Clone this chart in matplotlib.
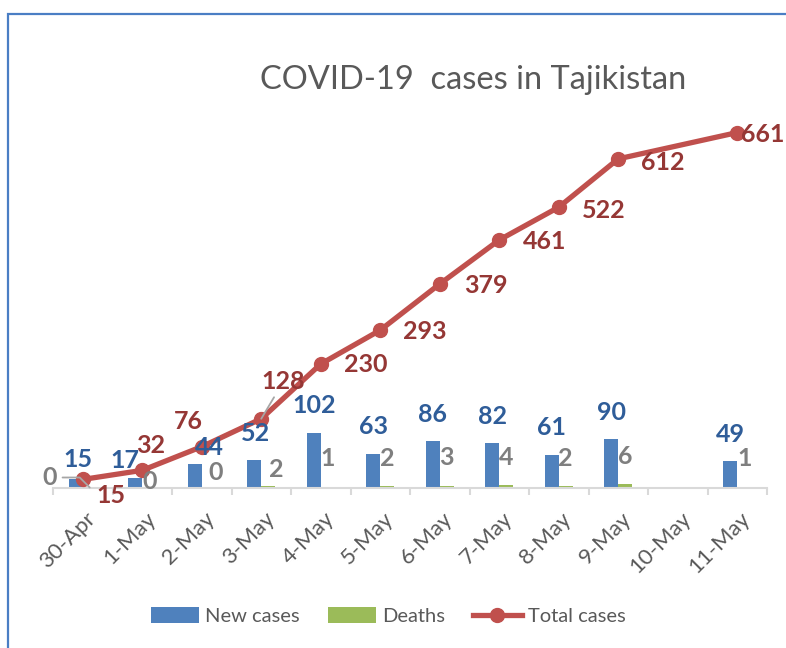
import numpy as np
import matplotlib
matplotlib.use("Agg")
import matplotlib.pyplot as plt
from matplotlib.patches import Patch, Rectangle
from matplotlib.lines import Line2D
from matplotlib.transforms import ScaledTranslation

# ---------------- data ----------------
dates = ["30-Apr", "1-May", "2-May", "3-May", "4-May", "5-May", "6-May",
         "7-May", "8-May", "9-May", "10-May", "11-May"]
new_cases = [15, 17, 44, 52, 102, 63, 86, 82, 61, 90, np.nan, 49]
deaths = [0, 0, 0, 2, 1, 2, 3, 4, 2, 6, np.nan, 1]
total_cases = [15, 32, 76, 128, 230, 293, 379, 461, 522, 612, np.nan, 661]

# label offsets (pixels, +y up) -- styling only
new_off = [(2, 20), (-10, 18), (15, 16), (1, 26)] + [(0, 27)] * 8
death_off = [(-40, 10), (0, 6), (7, 15), (8, 17)] + [(0, 28)] * 8
total_off = [(28, -16), (8, 25), (-13, 25), (22, 37), (45, -1), (45, -1),
             (46, -2), (45, -2), (45, -3), (45, -4), (0, 0), (26, -2)]

BLUE = "#4F81BD"
GREEN = "#9BBB59"
RED = "#C0504D"
BLUE_T = "#2F5D99"
RED_T = "#953735"
GRAY_T = "#7F7F7F"
TXT = "#595959"

plt.rcParams["font.family"] = ["Lato", "DejaVu Sans"]

fig = plt.figure(figsize=(7.86, 6.48), dpi=100)
W, H = 786, 648
ax = fig.add_axes([53 / W, (H - 487.5) / H, 714 / W, 375.9 / H])

x = np.arange(len(dates))
bw = 0.235
nc = np.array(new_cases, dtype=float)
dt = np.array(deaths, dtype=float)
tc = np.array(total_cases, dtype=float)

ax.bar(x - bw / 2, nc, width=bw, color=BLUE, zorder=2)
ax.bar(x + bw / 2, dt, width=bw, color=GREEN, zorder=2)
m = ~np.isnan(tc)
ax.plot(x[m], tc[m], color=RED, lw=3.8, marker="o", ms=10, zorder=4,
        solid_capstyle="round")

ax.set_xlim(-0.5, len(dates) - 0.5)
ax.set_ylim(0, 700)
ax.set_yticks([])
for s in ["left", "right", "top"]:
    ax.spines[s].set_visible(False)
ax.spines["bottom"].set_color("#D9D9D9")
ax.spines["bottom"].set_linewidth(1.5)

ax.set_xticks(x)
ax.set_xticks(np.arange(-0.5, len(dates)), minor=True)
ax.tick_params(axis="x", which="major", length=0, pad=20, labelsize=16,
               labelcolor=TXT)
ax.tick_params(axis="x", which="minor", length=5, width=1.5, color="#D9D9D9",
               direction="out")
ax.set_xticklabels(dates, rotation=45, ha="right", va="center",
                   rotation_mode="anchor")
for lab in ax.get_xticklabels():
    lab.set_transform(lab.get_transform() +
                      ScaledTranslation(10 / 100, 0, fig.dpi_scale_trans))

fs = 18
for i in range(len(dates)):
    if not np.isnan(nc[i]):
        ax.annotate(f"{int(nc[i])}", xy=(x[i] - bw / 2, nc[i]),
                    xytext=new_off[i], textcoords="offset pixels",
                    ha="center", va="center", fontsize=fs, fontweight="bold",
                    color=BLUE_T, zorder=5)
    if not np.isnan(dt[i]):
        kw = {}
        if i == 0:
            kw = dict(arrowprops=dict(arrowstyle="-", color="#A6A6A6", lw=1.3,
                                      shrinkA=2, shrinkB=0,
                                      connectionstyle="angle,angleA=0,angleB=135,rad=0"))
        ax.annotate(f"{int(dt[i])}", xy=(x[i] + bw / 2, dt[i]),
                    xytext=death_off[i], textcoords="offset pixels",
                    ha="center", va="center", fontsize=fs, fontweight="bold",
                    color=GRAY_T, zorder=5, **kw)
    if not np.isnan(tc[i]):
        kw = {}
        if i == 3:
            kw = dict(arrowprops=dict(arrowstyle="-", color="#A6A6A6", lw=1.3,
                                      shrinkA=1, shrinkB=0))
        ax.annotate(f"{int(tc[i])}", xy=(x[i], tc[i]),
                    xytext=total_off[i], textcoords="offset pixels",
                    ha="center", va="center", fontsize=fs, fontweight="bold",
                    color=RED_T, zorder=6, annotation_clip=False, **kw)

fig.text(473 / W, 1 - 80 / H, "COVID-19  cases in Tajikistan", ha="center",
         va="center", fontsize=23.5, color=TXT)

handles = [Patch(facecolor=BLUE, edgecolor="none"),
           Patch(facecolor=GREEN, edgecolor="none"),
           Line2D([0], [0], color=RED, lw=3.8, marker="o", ms=10)]
fig.legend(handles, ["New cases", "Deaths", "Total cases"], loc="center",
           bbox_to_anchor=(388 / W, 1 - 616 / H), ncol=3, frameon=False,
           fontsize=14.5, labelcolor=TXT, handlelength=2.4, handleheight=0.8,
           handletextpad=0.3, columnspacing=1.4)

fig.add_artist(Rectangle((8 / W, -0.1), 2.0, (H - 14) / H + 0.1,
                         transform=fig.transFigure, fill=False,
                         edgecolor="#4A7EC4", lw=1.6))

fig.savefig("out.png", dpi=100)
